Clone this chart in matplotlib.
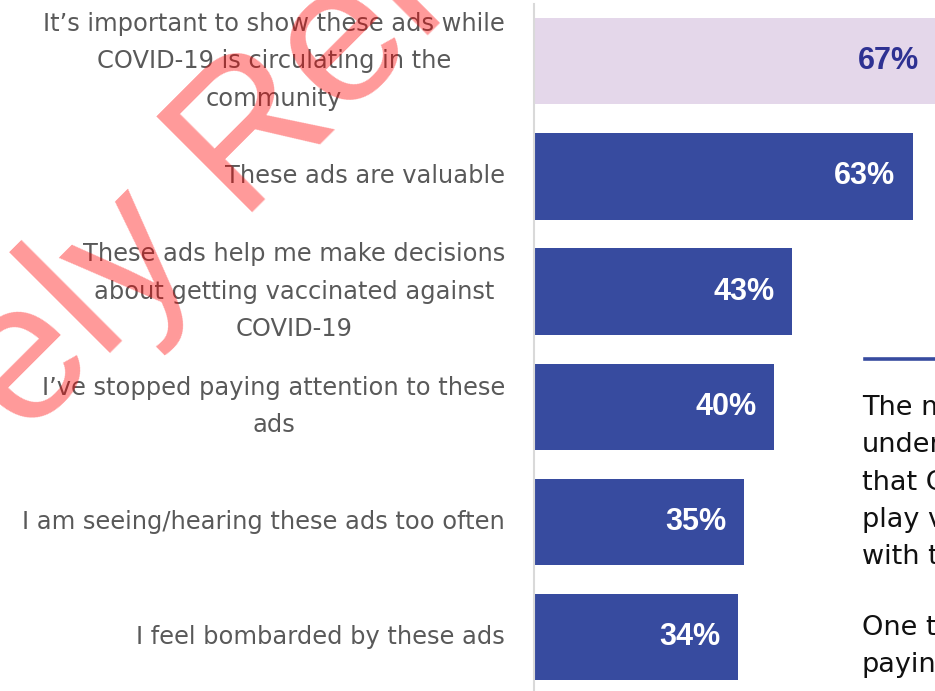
import matplotlib
matplotlib.use("Agg")
import matplotlib.pyplot as plt
from matplotlib.lines import Line2D

# survey statements, top to bottom, and share who agreed
statements = [
    "It\u2019s important to show these ads while\nCOVID-19 is circulating in the\ncommunity",
    "These ads are valuable",
    "These ads help me make decisions\nabout getting vaccinated against\nCOVID-19",
    "I\u2019ve stopped paying attention to these\nads",
    "I am seeing/hearing these ads too often",
    "I feel bombarded by these ads",
]
agree_pct = [67, 63, 43, 40, 35, 34]

# side note text (runs off the slide edge)
note_lines = ["The ma", "under", "that CO", "play v", "with t"]
note_lines2 = ["One t", "paying"]

BLUE = "#374b9f"
LAVENDER = "#e4d7ea"
NAVY = "#2e3192"
LABEL_GREY = "#595959"

W, H = 935, 691
fig = plt.figure(figsize=(W / 100, H / 100), dpi=100)

# axes start at the grey axis line and run to the right edge
ax = fig.add_axes([533.5 / W, 0.0, 1 - 533.5 / W, 687 / H])
px_per_pct = 6.02
ax.set_xlim(0, (W - 533.5) / px_per_pct)
ax.set_ylim(5.47, -0.498)

ypos = list(range(len(agree_pct)))
colors = [LAVENDER] + [BLUE] * (len(agree_pct) - 1)
ax.barh(ypos, agree_pct, height=0.75, color=colors, edgecolor="none", zorder=2)

for i, v in enumerate(agree_pct):
    ax.annotate(f"{v}%", xy=(v, i), xytext=(-12.8, 0), textcoords="offset points",
                ha="right", va="center", fontsize=22, fontweight="bold",
                family="Liberation Sans", color=NAVY if i == 0 else "white",
                zorder=3, annotation_clip=False)

# category labels, centred lines, block right-aligned
for i, lab in enumerate(statements):
    ax.annotate(lab, xy=(0, i), xytext=(-28.5 / 1.389, 0), textcoords="offset points",
                ha="right", va="center", multialignment="center",
                fontsize=17.4, color=LABEL_GREY, family="DejaVu Sans",
                linespacing=1.7, annotation_clip=False)

ax.set_xticks([])
ax.set_yticks([])
for side in ["top", "right", "bottom"]:
    ax.spines[side].set_visible(False)
ax.spines["left"].set_color("#d9d9d9")
ax.spines["left"].set_linewidth(1.5)

# accent rule and note text on the right
fig.add_artist(Line2D([865 / W, 1.0], [1 - 358.5 / H] * 2, color=BLUE, lw=2.6,
                      transform=fig.transFigure))
for k, line in enumerate(note_lines):
    fig.text(862 / W, 1 - (415 + 37.3 * k) / H, line, ha="left", va="baseline",
             fontsize=19.5, color="#111111", family="DejaVu Sans")
for k, line in enumerate(note_lines2):
    fig.text(862 / W, 1 - (635 + 37.3 * k) / H, line, ha="left", va="baseline",
             fontsize=19.5, color="#111111", family="DejaVu Sans")

# stamped overlay
fig.text(24 / W, 1 - 440 / H, "ely Rel", rotation=45, rotation_mode="anchor",
         ha="left", va="baseline", fontsize=142, family="Liberation Sans",
         color="red", alpha=0.4, zorder=10)

fig.savefig("out.png", dpi=100)
